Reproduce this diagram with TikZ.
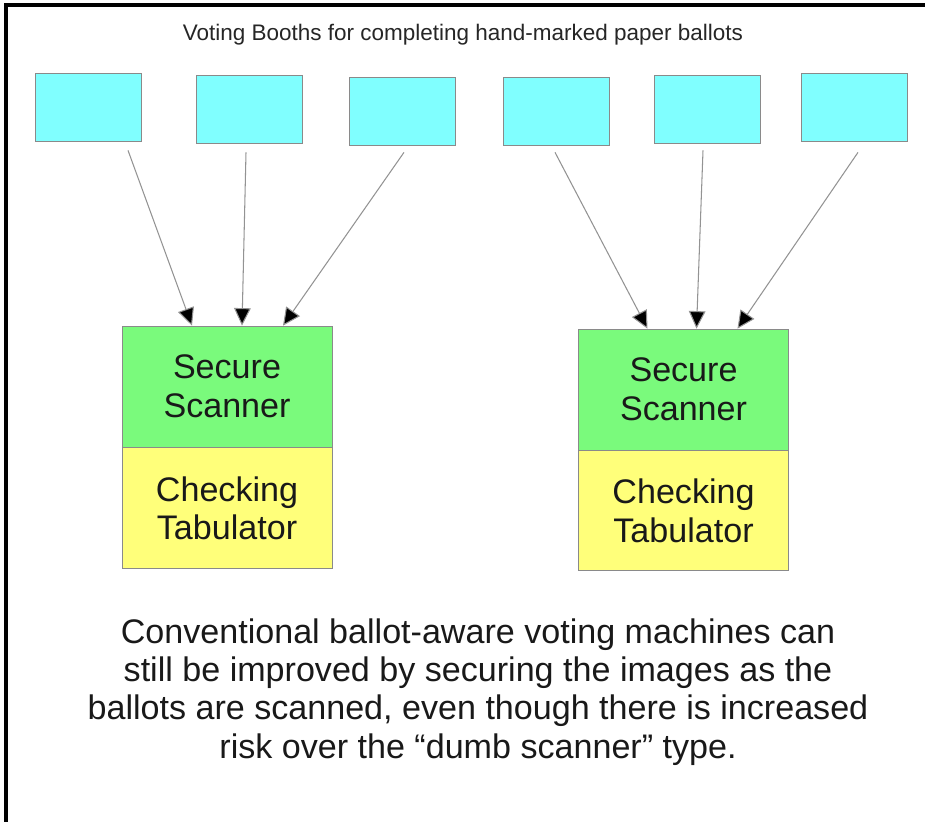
\documentclass[tikz,border=0pt]{standalone}
\usepackage{fontspec}
\setmainfont{Liberation Sans}
\usetikzlibrary{arrows.meta, positioning, calc}
\definecolor{boothcyan}{HTML}{80FFFF}
\definecolor{scangreen}{HTML}{7AFA7C}
\definecolor{tabyellow}{HTML}{FFFF7A}
\definecolor{edgegray}{HTML}{8A8A8A}

\begin{document}
\begin{tikzpicture}[
    x=0.02cm, y=-0.02cm,
    booth/.style={draw=edgegray, fill=boothcyan, minimum width=2.12cm, minimum height=1.36cm, inner sep=0pt},
    unit/.style={draw=edgegray, fill=#1, minimum width=4.2cm, minimum height=2.42cm, inner sep=0pt, font=\fontsize{19.4}{22}\selectfont, align=center, text=black!90},
    arrow/.style={-{Triangle[length=10pt, width=9.5pt, fill=black]}, draw=gray!85, line width=0.6pt},
]
\useasboundingbox (0,0) rectangle (925,822);

% Frame
\draw[line width=2.3pt] (925,5) -- (6,5) -- (6,822);

% Title
\node[font=\fontsize{12.8}{15}\selectfont, text=black!85] (title) at (463,35) {Voting Booths for completing hand-marked paper ballots};

% Booths
\node[booth] (b1) at (88,107) {};
\node[booth] (b2) at (249,109) {};
\node[booth] (b3) at (402,111) {};
\node[booth] (b4) at (556,111) {};
\node[booth] (b5) at (707,109) {};
\node[booth] (b6) at (854,107) {};

% Left machine
\node[unit=scangreen] (lscan) at (227,386.5) {Secure\\Scanner};
\node[unit=tabyellow, below=0pt of lscan] (ltab) {Checking\\Tabulator};

% Right machine
\node[unit=scangreen] (rscan) at (683.5,389.5) {Secure\\Scanner};
\node[unit=tabyellow, below=0pt of rscan, minimum height=2.4cm] (rtab) {Checking\\Tabulator};

% Arrows
\draw[arrow] ($(b1.south)+(40,9)$) -- ($(lscan.north)+(-35,0)$);
\draw[arrow] ($(b2.south)+(-3,9)$) -- ($(lscan.north)+(15,0)$);
\draw[arrow] ($(b3.south)+(2,7)$) -- ($(lscan.north)+(56,0)$);
\draw[arrow] ($(b4.south)+(-1,7)$) -- ($(rscan.north)+(-36,0)$);
\draw[arrow] ($(b5.south)+(-4,7)$) -- ($(rscan.north)+(13,0)$);
\draw[arrow] ($(b6.south)+(4,11)$) -- ($(rscan.north)+(54,0)$);

% Caption
\node[font=\fontsize{19.4}{21.8}\selectfont, align=center, text=black!90] (caption) at (478,692) {Conventional ballot-aware voting machines can\\still be improved by securing the images as the\\ballots are scanned, even though there is increased\\risk over the “dumb scanner” type.};

\end{tikzpicture}
\end{document}
